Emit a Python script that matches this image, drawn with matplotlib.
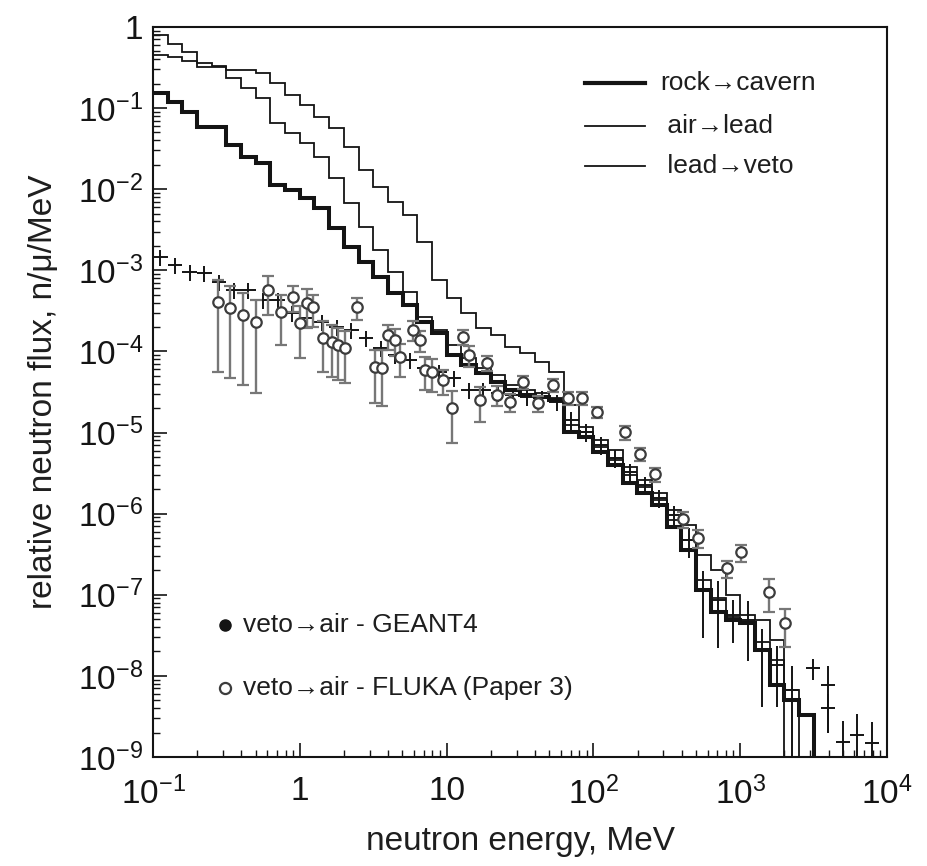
import numpy as np
import matplotlib
matplotlib.use("Agg")
import matplotlib.pyplot as plt
from matplotlib.ticker import FixedLocator, LogLocator, NullFormatter

plt.rcParams["font.family"] = ["Liberation Sans", "DejaVu Sans"]
plt.rcParams["mathtext.default"] = "regular"

# ── Binning: 10 log bins per decade from 0.1 MeV ──────────────────────────────
BIN_EDGES = np.logspace(-1, 3.6, 47)
FLOOR = 1e-15          # below the frame -> step falls to the bottom axis

# ── Histograms (n/mu/MeV per bin) ─────────────────────────────────────────────
LEAD_VETO = [0.80, 0.617, 0.492, 0.360, 0.330, 0.295, 0.295, 0.271, 0.204, 0.145,
             0.109, 0.0777, 0.0569, 0.0331, 0.0173, 0.01065, 0.00695, 0.00481, 0.00223, 7.6e-4,
             4.55e-4, 2.97e-4, 1.94e-4, 1.59e-4, 1.13e-4, 9.55e-5, 7.4e-5, 5.57e-5, 2.18e-5, 1.17e-5,
             8.1e-6, 6.1e-6, 3.76e-6, 2.6e-6, 1.8e-6, 1.11e-6, 7.2e-7, 3.08e-7, 2.02e-7, 9.9e-8,
             5.6e-8, 4.9e-8, 2.76e-8]
AIR_LEAD = [0.452, 0.427, 0.381, 0.321, 0.321, 0.235, 0.177, 0.133, 0.0655, 0.0493,
            0.0371, 0.0250, 0.01374, 0.00676, 0.00342, 0.00178, 9.5e-4, 5.4e-4, 2.65e-4, 1.84e-4,
            1.2e-4, 8.3e-5, 6.2e-5, 5.1e-5, 3.85e-5, 3.34e-5, 3.07e-5, 2.66e-5, 1.24e-5, 1.01e-5,
            6.6e-6, 4.6e-6, 2.99e-6, 2.13e-6, 1.47e-6, 8.3e-7, 4.7e-7, 1.52e-7, 9.0e-8, 5.3e-8,
            4.6e-8, 2.6e-8, 1.57e-8, 6.7e-9]
ROCK_CAVERN = [0.153, 0.119, 0.0895, 0.0585, 0.0585, 0.0351, 0.0250, 0.0210, 0.01127, 0.00977,
               0.00779, 0.00586, 0.00333, 0.00194, 0.00127, 8.3e-4, 5.25e-4, 3.73e-4, 2.3e-4, 1.69e-4,
               9.0e-5, 6.8e-5, 5.4e-5, 4.2e-5, 3.34e-5, 2.9e-5, 2.74e-5, 2.52e-5, 1.01e-5, 8.8e-6,
               5.75e-6, 3.97e-6, 2.38e-6, 1.8e-6, 1.28e-6, 6.8e-7, 3.56e-7, 1.14e-7, 6.1e-8, 4.9e-8,
               4.5e-8, 2.08e-8, 7.7e-9, 5.0e-9, 3.3e-9]

# ── veto->air GEANT4 (one point per histogram bin) ────────────────────────────
G4_FLUX = [1.46e-3, 1.16e-3, 9.5e-4, 9.3e-4, 7.2e-4, 5.7e-4, 5.7e-4, 4.3e-4, 4.3e-4, 2.97e-4,
           2.58e-4, 2.31e-4, 2.0e-4, 1.84e-4, 1.46e-4, 1.1e-4, 9.0e-5, 7.8e-5, 6.2e-5, 5.6e-5,
           4.7e-5, 3.34e-5, 3.34e-5, 3.07e-5, 2.9e-5, 2.74e-5, 2.66e-5, 2.38e-5, 1.43e-5, 1.01e-5,
           7.0e-6, 4.85e-6, 3.26e-6, 2.25e-6, 1.56e-6, 9.6e-7, 4.7e-7, 1.14e-7, 8.6e-8, 5.6e-8,
           4.9e-8, 2.08e-8, 1.36e-8, 6.7e-9]
G4_REL = [0.22, 0.22, 0.22, 0.22, 0.22, 0.22, 0.22, 0.22, 0.22, 0.22,
          0.22, 0.22, 0.22, 0.22, 0.22, 0.22, 0.22, 0.22, 0.22, 0.22,
          0.22, 0.22, 0.22, 0.22, 0.22, 0.22, 0.22, 0.22, 0.25, 0.25,
          0.25, 0.25, 0.25, 0.25, 0.25, 0.3, 0.4, 0.74, 0.74, 0.55,
          0.69, 0.8, 0.7, 0.95]
# high-energy GEANT4 points past the histogram range
G4_TAIL_E = [3133, 3963, 3963, 5012, 6252, 7907]
G4_TAIL_FLUX = [1.25e-8, 7.7e-9, 4.0e-9, 1.53e-9, 1.86e-9, 1.48e-9]
G4_TAIL_REL = [0.29, 0.74, 0.5, 0.8, 0.8, 0.8]

# ── veto->air FLUKA (Paper 3) ─────────────────────────────────────────────────
FLUKA_E = [0.277, 0.335, 0.410, 0.504, 0.607, 0.745, 0.90, 1.0, 1.12, 1.23,
           1.44, 1.66, 1.82, 2.03, 2.45, 3.25, 3.63, 3.99, 4.45, 4.82,
           5.90, 6.59, 7.13, 7.96, 9.45, 10.9, 12.9, 14.2, 16.9, 18.8,
           22.0, 27.0, 33.1, 42.0, 53.1, 67.1, 83.6, 106, 164, 208,
           263, 407, 516, 813, 1012, 1571, 2018]
FLUKA_FLUX = [4.07e-4, 3.43e-4, 2.81e-4, 2.31e-4, 5.71e-4, 3.06e-4, 4.69e-4, 2.24e-4, 3.95e-4, 3.52e-4,
              1.46e-4, 1.31e-4, 1.2e-4, 1.1e-4, 3.52e-4, 6.43e-5, 6.24e-5, 1.59e-4, 1.38e-4, 8.53e-5,
              1.84e-4, 1.38e-4, 5.9e-5, 5.57e-5, 4.44e-5, 2.0e-5, 1.51e-4, 9.0e-5, 2.52e-5, 7.19e-5,
              2.9e-5, 2.38e-5, 4.2e-5, 2.31e-5, 3.85e-5, 2.66e-5, 2.66e-5, 1.79e-5, 1.01e-5, 5.43e-6,
              3.08e-6, 8.58e-7, 5.0e-7, 2.13e-7, 3.36e-7, 1.08e-7, 4.48e-8]
FLUKA_ERR = [3.51e-4, 2.96e-4, 2.43e-4, 2.0e-4, 2.9e-4, 1.86e-4, 1.63e-4, 1.41e-4, 2.0e-4, 1.5e-4,
             9.0e-5, 8.2e-5, 7.6e-5, 6.9e-5, 1.08e-4, 4.1e-5, 4.1e-5, 5.5e-5, 5.0e-5, 3.7e-5,
             5.0e-5, 4.0e-5, 2.6e-5, 2.4e-5, 1.5e-5, 1.26e-5, 3.0e-5, 2.5e-5, 1.17e-5, 1.5e-5,
             8e-6, 6e-6, 8e-6, 5e-6, 7e-6, 5e-6, 5e-6, 3e-6, 2e-6, 1e-6,
             6e-7, 2e-7, 1.2e-7, 5e-8, 8e-8, 4.7e-8, 2.2e-8]

X_TICKS = [0.1, 1, 10, 100, 1000, 10000]
X_TICKLABELS = ["$10^{-1}$", "1", "10", "$10^{2}$", "$10^{3}$", "$10^{4}$"]
Y_TICKS = [1e-9, 1e-8, 1e-7, 1e-6, 1e-5, 1e-4, 1e-3, 1e-2, 1e-1, 1]
Y_TICKLABELS = ["$10^{-9}$", "$10^{-8}$", "$10^{-7}$", "$10^{-6}$", "$10^{-5}$",
                "$10^{-4}$", "$10^{-3}$", "$10^{-2}$", "$10^{-1}$", "1"]


def padded(vals):
    out = np.full(len(BIN_EDGES) - 1, FLOOR)
    out[:len(vals)] = vals
    return out


fig = plt.figure(figsize=(9.28, 8.66), dpi=100)
ax = fig.add_axes([0.1649, 0.1259, 0.7909, 0.8430])
ax.set_xscale("log")
ax.set_yscale("log")
ax.set_xlim(0.1, 1e4)
ax.set_ylim(1e-9, 1)

ink = "#141414"
txt = "#1e1e1e"

# ── Histograms ──
ax.stairs(padded(LEAD_VETO), BIN_EDGES, baseline=None, color=ink, lw=1.3, zorder=3)
ax.stairs(padded(AIR_LEAD), BIN_EDGES, baseline=None, color=ink, lw=1.3, zorder=3)
ax.stairs(padded(ROCK_CAVERN), BIN_EDGES, baseline=None, color=ink, lw=2.9, zorder=3)

# ── GEANT4 crosses ──
lo_edge = BIN_EDGES[:len(G4_FLUX)]
hi_edge = BIN_EDGES[1:len(G4_FLUX) + 1]
g4_e = np.sqrt(lo_edge * hi_edge)
g4_f = np.array(G4_FLUX)
g4_err = g4_f * np.array(G4_REL)
ax.errorbar(g4_e, g4_f, xerr=[g4_e - lo_edge, hi_edge - g4_e], yerr=g4_err,
            fmt="none", ecolor=ink, elinewidth=1.4, capsize=0, zorder=4)

t_e = np.array(G4_TAIL_E, dtype=float)
t_f = np.array(G4_TAIL_FLUX)
half = 10 ** 0.05
ax.errorbar(t_e, t_f, xerr=[t_e - t_e / half, t_e * half - t_e], yerr=t_f * np.array(G4_TAIL_REL),
            fmt="none", ecolor=ink, elinewidth=1.4, capsize=0, zorder=4)

# ── FLUKA open circles ──
ax.errorbar(FLUKA_E, FLUKA_FLUX, yerr=FLUKA_ERR, fmt="o", ms=7.5, mfc="white",
            mec="#3c3c3c", mew=1.6, ecolor="#777777", elinewidth=1.7,
            capsize=4, capthick=1.4, zorder=5)

# ── Axes styling ──
ax.xaxis.set_major_locator(FixedLocator(X_TICKS))
ax.set_xticklabels(X_TICKLABELS)
ax.yaxis.set_major_locator(FixedLocator(Y_TICKS))
ax.set_yticklabels(Y_TICKLABELS)
ax.xaxis.set_minor_locator(LogLocator(base=10, subs=np.arange(2, 10), numticks=20))
ax.yaxis.set_minor_locator(LogLocator(base=10, subs=np.arange(2, 10), numticks=20))
ax.xaxis.set_minor_formatter(NullFormatter())
ax.yaxis.set_minor_formatter(NullFormatter())
ax.tick_params(which="both", direction="in", top=False, right=False, colors=ink)
ax.tick_params(which="major", length=10, width=1.2, labelsize=24)
ax.tick_params(axis="x", which="major", pad=14)
ax.tick_params(axis="y", which="major", pad=7)
ax.tick_params(which="minor", length=5, width=1.0)
for sp in ax.spines.values():
    sp.set_linewidth(1.5)
    sp.set_color(ink)

ax.set_xlabel("neutron energy, MeV", fontsize=24, labelpad=11, color=txt)
ax.set_ylabel("relative neutron flux, n/\u03bc/MeV", fontsize=24, labelpad=14, color=txt)

# ── Legends (drawn by hand, axes coordinates) ──
hist_labels = ["rock\u2192cavern", " air\u2192lead", " lead\u2192veto"]
hist_widths = [3.0, 1.3, 1.3]
hist_rows = [0.9233, 0.8644, 0.8096]
for lab, lw, yy in zip(hist_labels, hist_widths, hist_rows):
    ax.plot([0.5886, 0.6703], [yy, yy], color=ink, lw=lw, transform=ax.transAxes)
    ax.text(0.6907, yy, lab, transform=ax.transAxes, fontsize=19, va="center",
            ha="left", color=txt)

ax.plot([0.0981], [0.1808], "o", ms=8, color=ink, transform=ax.transAxes)
ax.text(0.1226, 0.1808, "veto\u2192air - GEANT4", transform=ax.transAxes,
        fontsize=19, va="center", ha="left", color=txt)
ax.plot([0.0981], [0.0945], "o", ms=8, mfc="white", mec="#3c3c3c", mew=1.6,
        transform=ax.transAxes)
ax.text(0.1226, 0.0945, "veto\u2192air - FLUKA (Paper 3)", transform=ax.transAxes,
        fontsize=19, va="center", ha="left", color=txt)

fig.savefig("out.png", dpi=100)
